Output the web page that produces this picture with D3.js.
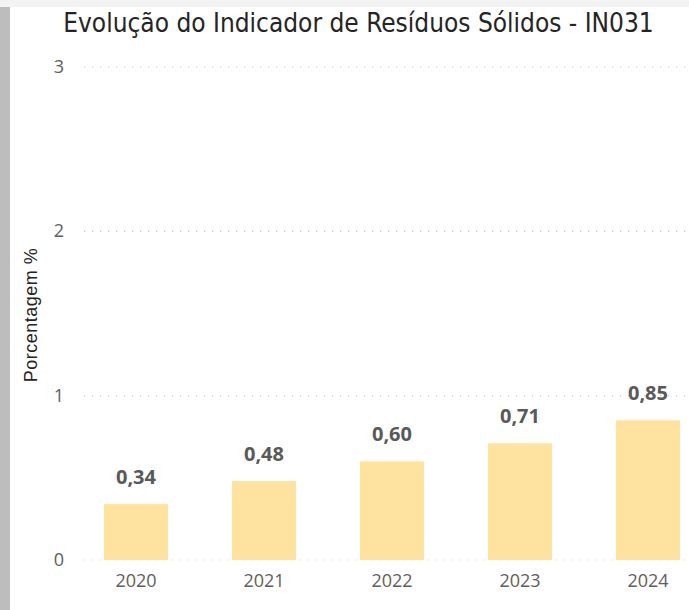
<!DOCTYPE html>
<html>
<head>
<meta charset="utf-8">
<script src="https://cdn.jsdelivr.net/npm/d3@7"></script>
<style>
  body { margin: 0; background: #fff; }
  svg { display: block; }
</style>
</head>
<body>
<div id="chart"></div>
<script>
const years = ["2020", "2021", "2022", "2023", "2024"];
const values = [0.34, 0.48, 0.60, 0.71, 0.85];
const yTicks = [0, 1, 2, 3];

const width = 689, height = 610;

const svg = d3.select("#chart").append("svg")
    .attr("width", width)
    .attr("height", height);

// frame bits around the visual
svg.append("rect").attr("x", 0).attr("y", 0).attr("width", width).attr("height", 7).attr("fill", "#f3f3f3");
svg.append("rect").attr("x", 0).attr("y", 7).attr("width", 10).attr("height", height - 7).attr("fill", "#bdbdbd");

const x = d3.scaleBand().domain(years).range([72, 712]).paddingInner(0.5).paddingOuter(0.25);
const y = d3.scaleLinear().domain([0, 3]).range([560, 67]);

svg.append("text")
    .attr("x", 358.5).attr("y", 32)
    .attr("text-anchor", "middle")
    .style("font-family", "'DejaVu Sans Condensed', 'DejaVu Sans'")
    .style("font-size", "26px")
    .attr("fill", "#252423")
    .text("Evolução do Indicador de Resíduos Sólidos - IN031");

// grid
svg.append("g").selectAll("line")
    .data(yTicks)
    .join("line")
    .attr("x1", 84).attr("x2", 689)
    .attr("y1", d => y(d)).attr("y2", d => y(d))
    .attr("stroke", "#c8c8c8")
    .attr("stroke-width", 1.2)
    .attr("stroke-dasharray", "1.2,6.8");

// y tick labels
svg.append("g").selectAll("text")
    .data(yTicks)
    .join("text")
    .attr("x", 64).attr("y", d => y(d) + 6)
    .attr("text-anchor", "end")
    .style("font-family", "'Open Sans', sans-serif")
    .style("font-size", "18px")
    .attr("fill", "#605e5c")
    .text(d => d);

svg.append("text")
    .attr("transform", "translate(37,315) rotate(-90)")
    .attr("text-anchor", "middle")
    .style("font-family", "'Liberation Sans', Arial, sans-serif")
    .style("font-size", "18px")
    .style("letter-spacing", "0.5px")
    .attr("fill", "#252423")
    .text("Porcentagem %");

// bars
svg.append("g").selectAll("rect")
    .data(values)
    .join("rect")
    .attr("x", (d, i) => x(years[i]))
    .attr("width", x.bandwidth())
    .attr("y", d => y(d))
    .attr("height", d => y(0) - y(d))
    .attr("fill", "#fee29f");

// data labels
svg.append("g").selectAll("text")
    .data(values)
    .join("text")
    .attr("x", (d, i) => x(years[i]) + x.bandwidth() / 2)
    .attr("y", d => y(d) - 20)
    .attr("text-anchor", "middle")
    .style("font-family", "'Open Sans', sans-serif")
    .style("font-size", "20px")
    .style("font-weight", "bold")
    .attr("fill", "#595959")
    .text(d => d3.format(".2f")(d).replace(".", ","));

// x labels
svg.append("g").selectAll("text")
    .data(years)
    .join("text")
    .attr("x", d => x(d) + x.bandwidth() / 2)
    .attr("y", 587)
    .attr("text-anchor", "middle")
    .style("font-family", "'Open Sans', sans-serif")
    .style("font-size", "18px")
    .attr("fill", "#605e5c")
    .text(d => d);
</script>
</body>
</html>
